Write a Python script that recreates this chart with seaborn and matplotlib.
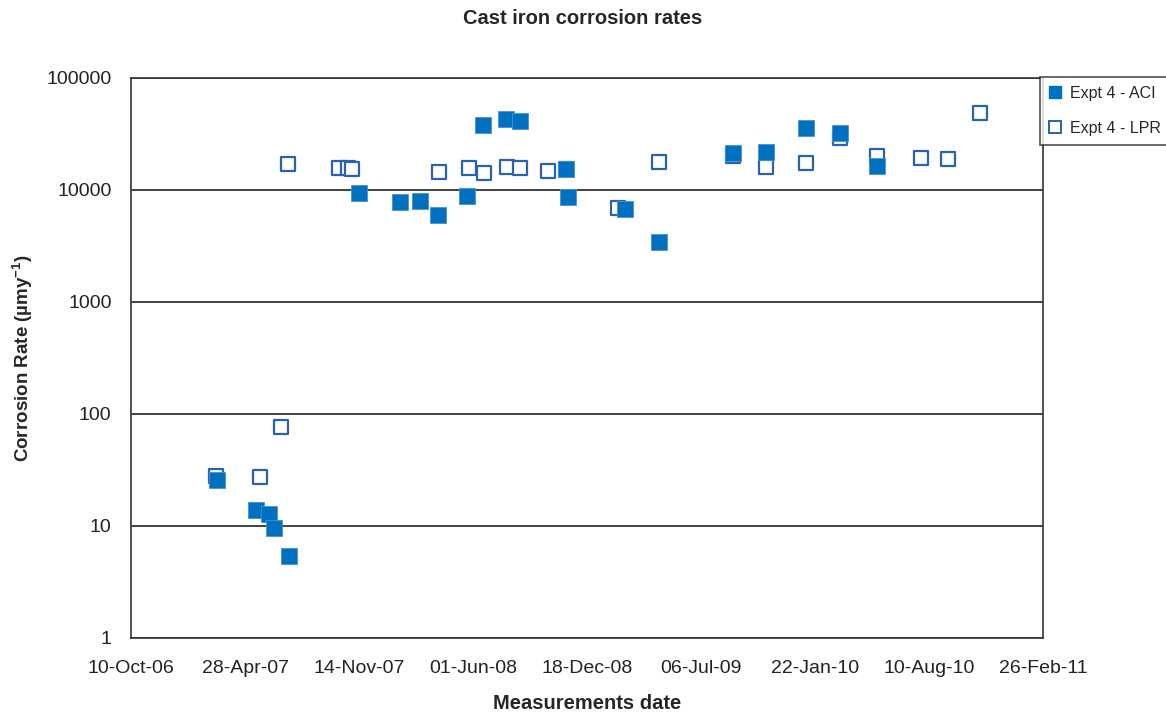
import matplotlib
matplotlib.use("Agg")
import matplotlib.pyplot as plt
import matplotlib.dates as mdates
from matplotlib.ticker import FixedLocator, FuncFormatter, NullLocator
from matplotlib.lines import Line2D
import seaborn as sns
import pandas as pd

# Expt 4 - ACI measurements
aci_dates = ["2007-03-10", "2007-05-17", "2007-06-09", "2007-06-18", "2007-07-14",
             "2007-11-14", "2008-01-25", "2008-02-29", "2008-04-01", "2008-05-21",
             "2008-06-18", "2008-07-29", "2008-08-22", "2008-11-11", "2008-11-14",
             "2009-02-23", "2009-04-23", "2009-08-31", "2009-10-28", "2010-01-06",
             "2010-03-07", "2010-05-11"]
aci_rates = [26, 14, 12.8, 9.6, 5.4,
             9400, 7800, 8000, 6000, 8800,
             38000, 43000, 41300, 15400, 8700,
             6800, 3400, 21400, 21700, 35800,
             32300, 16500]

# Expt 4 - LPR measurements
lpr_dates = ["2007-03-08", "2007-05-24", "2007-06-30", "2007-07-12", "2007-10-10",
             "2007-10-26", "2007-11-02", "2008-04-02", "2008-05-25", "2008-06-20",
             "2008-07-31", "2008-08-22", "2008-10-11", "2008-11-11", "2009-02-10",
             "2009-04-23", "2009-08-31", "2009-10-28", "2010-01-06", "2010-03-07",
             "2010-05-11", "2010-07-27", "2010-09-12", "2010-11-07"]
lpr_rates = [27.9, 27.5, 77, 17100, 15700,
             15700, 15400, 14500, 15700, 14200,
             16000, 15700, 14800, 15400, 6900,
             17800, 20100, 16000, 17400, 29100,
             20100, 19300, 18900, 48700]

tick_dates = ["2006-10-10", "2007-04-28", "2007-11-14", "2008-06-01", "2008-12-18",
              "2009-07-06", "2010-01-22", "2010-08-10", "2011-02-26"]
y_ticks = [1, 10, 100, 1000, 10000, 100000]

aci = pd.DataFrame({"date": pd.to_datetime(aci_dates), "rate": aci_rates})
lpr = pd.DataFrame({"date": pd.to_datetime(lpr_dates), "rate": lpr_rates})

sns.set_theme(style="white")
plt.rcParams["font.family"] = ["Liberation Sans", "DejaVu Sans"]
plt.rcParams["mathtext.default"] = "regular"

fill_col = "#0070C0"
edge_col = "#2A62B0"

fig = plt.figure(figsize=(11.66, 7.15), dpi=100)
ax = fig.add_axes([131 / 1166, 1 - 638 / 715, (1043 - 131) / 1166, (638 - 78) / 715])

sns.scatterplot(data=lpr, x="date", y="rate", ax=ax, marker="s", s=110,
                facecolor="white", edgecolor=edge_col, linewidth=1.6, zorder=3)
sns.scatterplot(data=aci, x="date", y="rate", ax=ax, marker="s", s=135,
                color=fill_col, edgecolor="#4A90D0", linewidth=0.6, zorder=4)

ax.set_yscale("log")
ax.set_ylim(1, 100000)
tick_dt = pd.to_datetime(tick_dates)
ax.set_xlim(tick_dt[0], tick_dt[-1])
ax.xaxis.set_major_locator(FixedLocator(mdates.date2num(tick_dt)))
ax.xaxis.set_major_formatter(mdates.DateFormatter("%d-%b-%y"))
ax.yaxis.set_major_locator(FixedLocator(y_ticks))
ax.yaxis.set_minor_locator(NullLocator())
ax.yaxis.set_major_formatter(FuncFormatter(lambda v, p: f"{v:.0f}"))

ax.grid(axis="y", color="#222222", linewidth=1.2)
ax.set_axisbelow(True)
for sp in ax.spines.values():
    sp.set_color("#333333")
    sp.set_linewidth(1.2)

ax.tick_params(axis="both", which="major", direction="out", length=6, width=1.2,
               color="#333333", labelsize=14, labelcolor="#222222", pad=8)
ax.tick_params(axis="x", pad=10)

ax.set_xlabel("Measurements date", fontsize=14.5, fontweight="bold", labelpad=12)
ax.set_ylabel("Corrosion Rate (µmy$^{-1}$)", fontsize=13.5, fontweight="bold", labelpad=8)
fig.text(0.5, 1 - 19 / 715, "Cast iron corrosion rates", ha="center", va="center",
         fontsize=14.5, fontweight="bold")

handles = [
    Line2D([], [], marker="s", linestyle="none", markersize=8,
           markerfacecolor=fill_col, markeredgecolor=fill_col),
    Line2D([], [], marker="s", linestyle="none", markersize=8,
           markerfacecolor="white", markeredgecolor=edge_col, markeredgewidth=1.4),
]
leg = fig.legend(handles, ["Expt 4 - ACI", "Expt 4 - LPR"], loc="upper left",
                 bbox_to_anchor=(1040 / 1166, 1 - 77 / 715), fontsize=11.5,
                 frameon=True, fancybox=False, borderpad=0.55, labelspacing=1.25,
                 handlelength=0.8, handletextpad=0.5, borderaxespad=0)
leg.get_frame().set_edgecolor("#222222")
leg.get_frame().set_linewidth(1.2)

fig.savefig("out.png", dpi=100)
